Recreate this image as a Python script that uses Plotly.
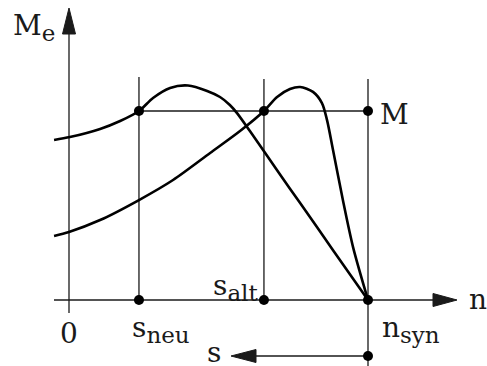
import plotly.graph_objects as go

# ---- data (n normalised to n_syn = 1, M normalised to load torque M = 1) ----
n_syn = 1.0
n_alt = 0.652
n_neu = 0.234
M_load = 1.0

curve_neu_n = [-0.050, 0.003, 0.104, 0.171, 0.234, 0.281, 0.338, 0.398, 0.462, 0.505, 0.538, 0.562, 0.605, 0.700, 0.773, 0.886, 1.000]
curve_neu_M = [0.847, 0.862, 0.905, 0.947, 1.000, 1.069, 1.122, 1.135, 1.106, 1.074, 1.032, 0.989, 0.894, 0.677, 0.513, 0.257, 0.000]

curve_alt_n = [-0.050, 0.000, 0.104, 0.234, 0.348, 0.472, 0.572, 0.652, 0.696, 0.739, 0.773, 0.816, 0.846, 0.863, 0.883, 0.916, 0.950, 1.000]
curve_alt_M = [0.339, 0.360, 0.423, 0.529, 0.635, 0.778, 0.894, 1.000, 1.074, 1.116, 1.127, 1.101, 1.042, 0.952, 0.794, 0.529, 0.280, 0.000]

# ---- pixel <-> data helpers (reference is 487 x 366) ----
W, H = 487, 366
PX0, PXS = 69.0, 299.0   # pixel x of n=0, pixels per unit n
PY0, PYS = 300.0, 189.0  # pixel y of M=0, pixels per unit M

def xn(px):
    return (px - PX0) / PXS

def yM(py):
    return (PY0 - py) / PYS

LINE = "#1a1a1a"
THIN = 1.3
FONT = dict(family="DejaVu Serif", size=28, color="#1a1a1a")

fig = go.Figure()

# torque curves
fig.add_trace(go.Scatter(x=curve_neu_n, y=curve_neu_M, mode="lines",
                         line=dict(color="black", width=2.6, shape="spline", smoothing=0.8),
                         hoverinfo="skip"))
fig.add_trace(go.Scatter(x=curve_alt_n, y=curve_alt_M, mode="lines",
                         line=dict(color="black", width=2.6, shape="spline", smoothing=0.8),
                         hoverinfo="skip"))

shapes = []
def seg(x0, y0, x1, y1, w=THIN):
    shapes.append(dict(type="line", x0=x0, y0=y0, x1=x1, y1=y1,
                       line=dict(color=LINE, width=w), layer="below"))

def tri(pts):
    d = "M " + " L ".join(f"{a},{b}" for a, b in pts) + " Z"
    shapes.append(dict(type="path", path=d, fillcolor=LINE,
                       line=dict(color=LINE, width=1), layer="above"))

# axes
seg(0, yM(313), 0, yM(30))
tri([(0, yM(8)), (xn(62.5), yM(34)), (xn(75.5), yM(34))])
seg(xn(54), 0, xn(436), 0)
tri([(xn(457), 0), (xn(433), yM(293.5)), (xn(433), yM(306.5))])

# verticals and load line
seg(n_neu, 0, n_neu, yM(77))
seg(n_alt, 0, n_alt, yM(79))
seg(n_syn, yM(370), n_syn, yM(79))
seg(n_neu, M_load, n_syn, M_load)

# slip arrow
s_y = yM(356)
seg(n_syn, s_y, xn(254), s_y)
tri([(xn(231), s_y), (xn(256), s_y + 6.5 / PYS), (xn(256), s_y - 6.5 / PYS)])

# points
pts_x = [n_neu, n_alt, n_syn, n_neu, n_alt, n_syn, n_syn]
pts_y = [M_load, M_load, M_load, 0, 0, 0, s_y]
fig.add_trace(go.Scatter(x=pts_x, y=pts_y, mode="markers",
                         marker=dict(color="black", size=10), hoverinfo="skip"))

def sub(main, s):
    return f"{main}<sub><span style='font-size:23px'>{s}</span></sub>"

def label(text, px, py, xanchor="center"):
    fig.add_annotation(x=xn(px), y=yM(py), text=text, showarrow=False,
                       xanchor=xanchor, yanchor="middle", font=FONT)

label(sub("M", "e"), 11, 27, "left")
label("M", 394, 114)
label("n", 478, 299)
label("0", 69, 333)
label(sub("s", "neu"), 161, 329)
label(sub("s", "alt"), 235, 287)
label(sub("n", "syn"), 411, 329)
label("s", 214, 352)

fig.update_layout(
    width=W, height=H,
    margin=dict(l=0, r=0, t=0, b=0),
    paper_bgcolor="white", plot_bgcolor="white",
    showlegend=False,
    shapes=shapes,
    xaxis=dict(range=[xn(0), xn(W)], visible=False, fixedrange=True),
    yaxis=dict(range=[yM(H), yM(0)], visible=False, fixedrange=True),
)

fig.write_html("out.html", config={"displayModeBar": False},
               post_script="document.body.style.margin='0';document.body.style.overflow='hidden';")
